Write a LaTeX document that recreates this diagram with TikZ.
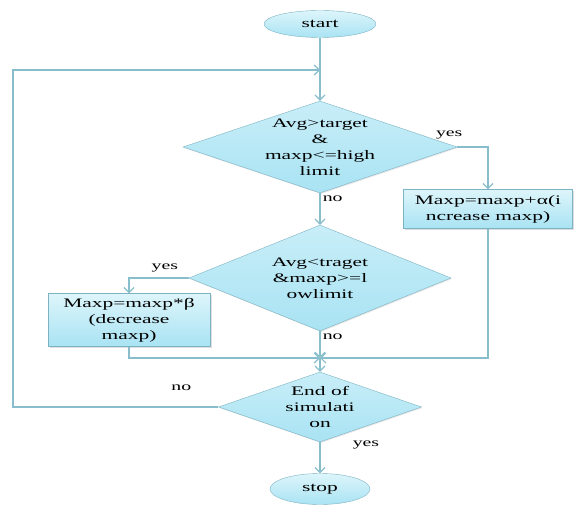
\documentclass[tikz,border=0pt]{standalone}
\usepackage{fontspec}
\setmainfont{Liberation Serif}[FakeStretch=1.65]
\usetikzlibrary{shapes.geometric,arrows.meta,shadows}

\definecolor{FlowLine}{HTML}{88BECC}
\definecolor{FlowEdge}{HTML}{7DB2C2}
\definecolor{FlowTop}{HTML}{DDF5FB}
\definecolor{FlowBottom}{HTML}{A9E3F3}

\begin{document}
\begin{tikzpicture}[x=1pt,y=-1pt,font=\fontsize{13}{16}\selectfont]
	  \useasboundingbox (0,0) rectangle (578,505);
	  \tikzset{TerminalStyle/.style = {shape        = ellipse,
	                                   draw         = FlowEdge,
	                                   top color    = FlowTop,
	                                   bottom color = FlowBottom,
	                                   inner sep    = 0pt,
	                                   minimum width  = 112pt,
	                                   minimum height = 27pt}}

	  \tikzset{DecisionStyle/.style = {shape        = diamond,
	                                   draw         = FlowEdge,
	                                   top color    = FlowTop!60!FlowBottom,
	                                   bottom color = FlowBottom,
	                                   drop shadow  = {opacity=0.2,shadow xshift=1pt,shadow yshift=-1pt},
	                                   align        = center,
	                                   inner sep    = -2pt}}

	  \tikzset{ProcessStyle/.style = {shape        = rectangle,
	                                  draw         = FlowEdge,
	                                  top color    = FlowTop,
	                                  bottom color = FlowBottom,
	                                  drop shadow  = {opacity=0.25,shadow xshift=1.5pt,shadow yshift=-1.5pt},
	                                  align        = center,
	                                  inner sep    = 0pt}}

	  \tikzset{EdgeStyle/.style   = {draw = FlowLine, line width = 1.6pt,
	                                 -{Straight Barb[length=5pt,width=10pt,line width=1.2pt]}}}

	  \tikzset{LabelStyle/.style =   {inner sep = 2pt, font=\fontsize{12}{14}\selectfont}}

	     \node[TerminalStyle](Start) at (320,24) {start};
	     \node[DecisionStyle,aspect=2.98,minimum width=274pt,minimum height=92pt](D_1) at (320,147)
	          {Avg>target\\\&\\maxp<=high\\limit};
	     \node[ProcessStyle,minimum width=169pt,minimum height=39pt](P_1) at (488,209)
	          {Maxp=maxp+α(i\\ncrease maxp)};
	     \node[DecisionStyle,aspect=2.47,minimum width=262pt,minimum height=106pt](D_2) at (320,278)
	          {Avg<traget\\\&maxp>=l\\owlimit};
	     \node[ProcessStyle,minimum width=162pt,minimum height=53pt](P_2) at (129,320)
	          {Maxp=maxp*β\\(decrease\\maxp)};
	     \node[DecisionStyle,aspect=2.9,minimum width=203pt,minimum height=70pt](D_3) at (320,407)
	          {End of\\simulati\\on};
	     \node[TerminalStyle,minimum width=100pt,minimum height=31pt](Stop) at (320,489) {stop};

	     \coordinate (Merge) at (320,358);
	     \coordinate (LoopTop) at (13,70);
	     \coordinate (Entry) at (320,70);

	     \draw[EdgeStyle](Start) -- (D_1);
	     \draw[EdgeStyle](D_1) -| node[LabelStyle,pos=0,above=5pt,xshift=-8pt]{yes} (P_1);
	     \draw[EdgeStyle](D_1) -- node[LabelStyle,pos=0,below right]{no} (D_2);

	     \draw[EdgeStyle](D_2) -| node[LabelStyle,pos=0.2,above=3pt]{yes} (P_2);
	     \draw[EdgeStyle](D_2) -- node[LabelStyle,pos=0,below right]{no} (Merge);
	     \draw[EdgeStyle](P_2) |- (Merge);
	     \draw[EdgeStyle](P_1) |- (Merge);
	     \draw[EdgeStyle](Merge) -- (D_3);

	     \draw[EdgeStyle](D_3) -| node[LabelStyle,pos=0.09,above=14pt]{no} (LoopTop) -- (Entry);
	     \draw[EdgeStyle](D_3) -- node[LabelStyle,pos=0.1,right=30pt]{yes} (Stop);

	  \end{tikzpicture}
\end{document}
